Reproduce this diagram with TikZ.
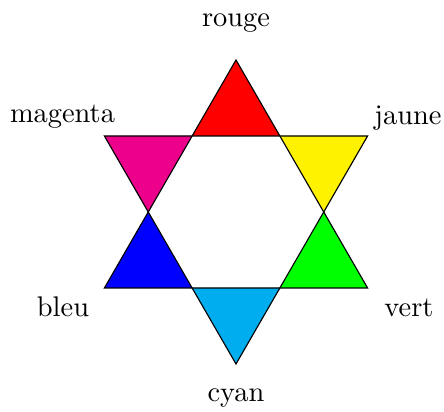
\documentclass[tikz,border=0pt]{standalone}
\begin{document}
\begin{tikzpicture}[x=0.352pt,y=-0.352pt,
  tri/.style={draw=black,line width=0.4pt,line join=miter},
  lab/.style={inner sep=0pt,anchor=base,font=\normalsize}]
\useasboundingbox (0,0) rectangle (444,412);
% center (236,212), outer radius 152, inner radius 88
\coordinate (O) at (236,212);
\coordinate (T) at (236,60);
\coordinate (B) at (236,364);
\coordinate (UL) at (104.4,136);
\coordinate (UR) at (367.6,136);
\coordinate (LL) at (104.4,288);
\coordinate (LR) at (367.6,288);
\coordinate (h1) at (192,136);
\coordinate (h2) at (280,136);
\coordinate (h3) at (324,212);
\coordinate (h4) at (280,288);
\coordinate (h5) at (192,288);
\coordinate (h6) at (148,212);
\fill[red] (T) -- (h2) -- (h1) -- cycle;
\fill[yellow] (h2) -- (UR) -- (h3) -- cycle;
\fill[green] (h3) -- (LR) -- (h4) -- cycle;
\fill[cyan] (h4) -- (B) -- (h5) -- cycle;
\fill[blue] (h5) -- (LL) -- (h6) -- cycle;
\fill[magenta] (h6) -- (UL) -- (h1) -- cycle;
\draw[tri] (T) -- (LR) -- (LL) -- cycle;
\draw[tri] (B) -- (UR) -- (UL) -- cycle;
\node[lab] (rouge) at (236,27) {rouge};
\node[lab] (magenta) at (62.5,123) {magenta};
\node[lab] (jaune) at (408,124.5) {jaune};
\node[lab] (bleu) at (63,316.5) {bleu};
\node[lab] (vert) at (409,316.5) {vert};
\node[lab] (cyan) at (236,402) {cyan};
\end{tikzpicture}
\end{document}
